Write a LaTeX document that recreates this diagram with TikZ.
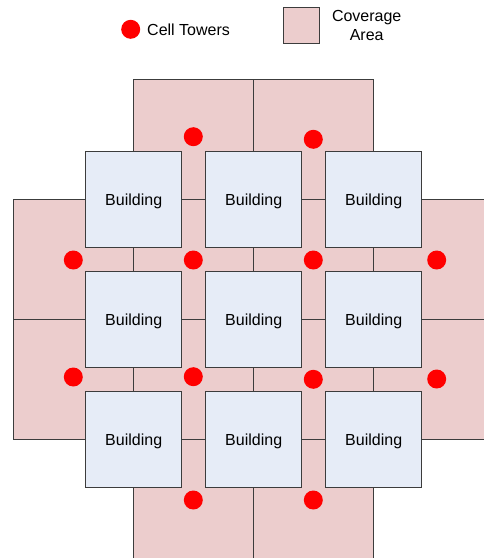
\documentclass[tikz,border=0pt]{standalone}
\usepackage{fontspec}
\setmainfont{Liberation Sans}
\usetikzlibrary{positioning}
\definecolor{coverage}{RGB}{236,205,205}
\definecolor{building}{RGB}{230,236,247}
\definecolor{outline}{RGB}{60,60,60}
\begin{document}
\begin{tikzpicture}[x=0.75pt,y=-0.75pt,
  font=\fontsize{12}{13.8}\selectfont,
  area/.style={draw=outline,fill=coverage,line width=0.75pt,minimum size=90pt,inner sep=0pt},
  house/.style={draw=outline,fill=building,line width=0.75pt,minimum size=72pt,inner sep=0pt,text depth=0.6pt},
  tower/.style={circle,fill=red,minimum size=14.25pt,inner sep=0pt}]
\clip (0,0) rectangle (484,558);
% legend
\node[tower] (lt) at (130.7,29.3) {};
\node[anchor=west] (ltext) at (142.5,29.3) {Cell Towers};
\node[area,minimum size=27pt] (la) at (301.3,25.3) {};
\node[align=center] (latext) at (366.7,25.6) {Coverage\\Area};
% coverage areas
\foreach \c in {1,2} \node[area] (a0\c) at (73.3+120*\c,139.5) {};
\foreach \r in {1,2} \foreach \c in {0,1,2,3}
  \node[area] (a\r\c) at (73.3+120*\c,139.5+120*\r) {};
\foreach \c in {1,2} \node[area] (a3\c) at (73.3+120*\c,499.5) {};
% buildings
\foreach \r in {1,2,3} \foreach \c in {1,2,3}
  \node[house] (b\r\c) at (13.7+120*\c,79.7+120*\r) {Building};
% cell towers
\node[tower] (t1) at (193.3,136.7) {};
\node[tower] (t2) at (313.3,139.3) {};
\node[tower] (t3) at (73.3,260) {};
\node[tower] (t4) at (193.3,260) {};
\node[tower] (t5) at (313.3,260) {};
\node[tower] (t6) at (436.7,260) {};
\node[tower] (t7) at (73.3,377) {};
\node[tower] (t8) at (193.3,376.7) {};
\node[tower] (t9) at (313.3,379.3) {};
\node[tower] (t10) at (436.7,379) {};
\node[tower] (t11) at (193.3,500) {};
\node[tower] (t12) at (313.3,500) {};
\end{tikzpicture}
\end{document}
